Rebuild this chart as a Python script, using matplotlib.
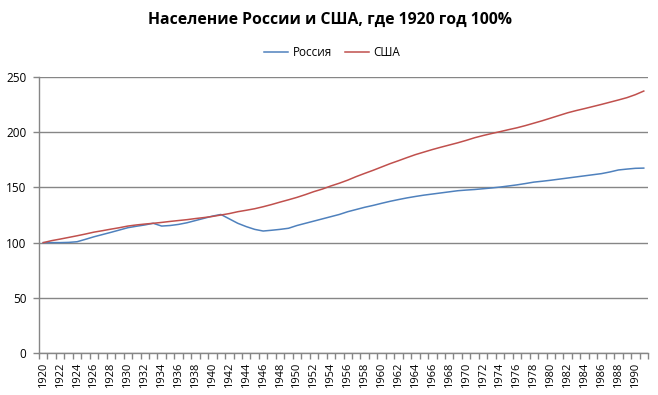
import matplotlib
matplotlib.use('Agg')
import matplotlib.pyplot as plt
import numpy as np

plt.rcParams['font.family'] = ['Open Sans', 'DejaVu Sans']

# Population index, 1920 = 100%
years = list(range(1920, 1992))
russia = [
    100.0, 100.0, 100.0, 100.2, 100.8, 103.0, 105.3, 107.3, 109.3, 111.4,
    113.5, 114.8, 116.0, 117.5, 115.0, 115.5, 116.5, 118.0, 120.0, 122.0,
    124.0, 125.5, 121.5, 117.5, 114.5, 112.0, 110.5, 111.2, 112.0, 113.0,
    115.5, 117.5, 119.5, 121.5, 123.5, 125.5, 128.0, 130.0, 132.0, 133.7,
    135.6, 137.4, 139.0, 140.5, 141.8, 143.0, 144.0, 145.0, 146.0, 147.0,
    147.6, 148.1, 148.8, 149.5, 150.3, 151.3, 152.3, 153.5, 154.8, 155.6,
    156.5, 157.5, 158.5, 159.5, 160.5, 161.5, 162.5, 164.0, 165.8, 166.6,
    167.3, 167.5,
]
usa = [
    100.0, 101.8, 103.2, 104.7, 106.2, 107.8, 109.5, 110.8, 112.2, 113.5,
    115.0, 116.0, 116.8, 117.5, 118.3, 119.2, 120.0, 120.8, 121.8, 122.7,
    123.7, 125.0, 126.3, 128.0, 129.3, 130.7, 132.5, 134.5, 136.7, 138.8,
    141.0, 143.5, 146.2, 148.5, 151.3, 153.8, 156.6, 159.8, 162.7, 165.5,
    168.5, 171.5, 174.2, 177.0, 179.7, 182.0, 184.3, 186.4, 188.4, 190.4,
    192.6, 195.0, 197.0, 198.8, 200.5, 202.3, 204.0, 206.0, 208.2, 210.4,
    212.8, 215.2, 217.6, 219.6, 221.4, 223.3, 225.2, 227.2, 229.2, 231.3,
    234.0, 237.3,
]
series_names = ['Россия', 'США']
y_ticks = [0, 50, 100, 150, 200, 250]

grid_color = '#868686'
colors = ['#4F81BD', '#C0504D']

fig = plt.figure(figsize=(6.58, 3.95), dpi=100)
ax = fig.add_axes([0.0593, 0.1063, 0.9255, 0.6987])

x = np.arange(len(years))
ax.plot(x, russia, color=colors[0], linewidth=1.1, label=series_names[0])
ax.plot(x, usa, color=colors[1], linewidth=1.1, label=series_names[1])

ax.set_xlim(-0.5, len(years) - 0.5)
ax.set_ylim(0, 250)
ax.set_yticks(y_ticks)
ax.yaxis.grid(True, color=grid_color, linewidth=1)
ax.set_axisbelow(True)

# category labels every 2 years, tick marks between categories
ax.set_xticks(x[::2])
ax.set_xticklabels([str(y) for y in years[::2]], rotation=90)
ax.set_xticks(np.arange(len(years) + 1) - 0.5, minor=True)
ax.tick_params(axis='x', which='major', length=0, pad=7, labelsize=8)
ax.tick_params(axis='x', which='minor', length=4, color=grid_color, width=1)
ax.tick_params(axis='y', length=4, color=grid_color, width=1, labelsize=8.5, pad=5)

for s in ['top', 'right']:
    ax.spines[s].set_visible(False)
for s in ['left', 'bottom']:
    ax.spines[s].set_color(grid_color)
    ax.spines[s].set_linewidth(1)

fig.text(0.502, 0.949, 'Население России и США, где 1920 год 100%',
         ha='center', va='center', fontsize=11.3, fontweight='bold')
fig.legend(loc='center', bbox_to_anchor=(0.505, 0.868), ncol=2, frameon=False,
           fontsize=8.5, handlelength=2.0, columnspacing=1.1, handletextpad=0.4)

fig.savefig('out.png', dpi=100, facecolor='white')
